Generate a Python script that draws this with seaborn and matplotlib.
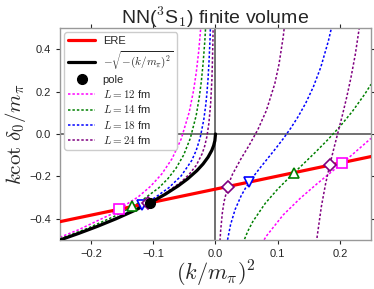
import numpy as np
import matplotlib
matplotlib.use("Agg")
import matplotlib.pyplot as plt
import seaborn as sns

# effective range expansion line (end points)
ere_x = [-0.25, 0.25]
ere_y = [-0.4135, -0.1065]

# -sqrt(-(k/m)^2) branch
root_x = [-0.25, -0.22, -0.19, -0.16, -0.13, -0.10, -0.08, -0.06, -0.045, -0.03,
          -0.02, -0.012, -0.006, -0.003, -0.001, 0.0]
root_y = [-0.5, -0.469, -0.4359, -0.4, -0.3606, -0.3162, -0.2828, -0.2449, -0.2121, -0.1732,
          -0.1414, -0.1095, -0.0775, -0.0548, -0.0316, 0.0]

# finite volume curves, negative side
l12_neg_x = [-0.25, -0.2207, -0.169, -0.1242, -0.1043, -0.0862, -0.0698, -0.0552, -0.0423,
             -0.0353, -0.031, -0.027, -0.0233]
l12_neg_y = [-0.487, -0.4525, -0.3803, -0.2964, -0.2465, -0.188, -0.1163, -0.0239, 0.1025,
             0.2045, 0.2885, 0.3898, 0.5142]
l14_neg_x = [-0.25, -0.2052, -0.1622, -0.1242, -0.0912, -0.0767, -0.0634, -0.0513, -0.0405,
             -0.031, -0.026, -0.0228, -0.0199, -0.0171, -0.0146]
l14_neg_y = [-0.4949, -0.4445, -0.3879, -0.326, -0.2541, -0.2113, -0.1611, -0.0997, -0.0205,
             0.0879, 0.1752, 0.2473, 0.3341, 0.4408, 0.5739]
l18_neg_x = [-0.25, -0.2207, -0.1855, -0.1533, -0.1242, -0.0981, -0.0751, -0.0552, -0.0383,
             -0.031, -0.0245, -0.0188, -0.0157, -0.0138, -0.012, -0.0104, -0.0088, -0.0074]
l18_neg_y = [-0.4991, -0.4685, -0.4284, -0.3877, -0.3458, -0.3017, -0.2536, -0.1976, -0.1253,
             -0.0775, -0.016, 0.0684, 0.1363, 0.1923, 0.2599, 0.3428, 0.4464, 0.5786]
l24_neg_x = [-0.25, -0.2207, -0.169, -0.1242, -0.0862, -0.0552, -0.0423, -0.031, -0.0216,
             -0.0175, -0.0138, -0.0106, -0.0078, -0.0058, -0.005, -0.0042, -0.0035]
l24_neg_y = [-0.4999, -0.4697, -0.4107, -0.3514, -0.2908, -0.2263, -0.1902, -0.1482, -0.094,
             -0.0582, -0.012, 0.0513, 0.1442, 0.2571, 0.3348, 0.4339, 0.5637]

# finite volume curves, positive side
l12_pos_x = [0.0708, 0.0817, 0.1089, 0.1362, 0.1634, 0.1906, 0.2179, 0.25]
l12_pos_y = [-0.5345, -0.4817, -0.3815, -0.3033, -0.2344, -0.1687, -0.1025, -0.0204]
l14_pos_x = [0.044, 0.052, 0.06, 0.08, 0.1, 0.12, 0.14, 0.16, 0.18, 0.2001, 0.2201, 0.2401, 0.2501]
l14_pos_y = [-0.5151, -0.4582, -0.4129, -0.327, -0.26, -0.2009, -0.1446, -0.0879, -0.0286,
             0.0354, 0.1068, 0.1886, 0.2349]
l18_pos_x = [0.0194, 0.0242, 0.0315, 0.0412, 0.0484, 0.0605, 0.0726, 0.0847, 0.0968, 0.1089,
             0.121, 0.1331, 0.1452, 0.1573, 0.1694, 0.1815, 0.1864]
l18_pos_y = [-0.4993, -0.4279, -0.3564, -0.2917, -0.2543, -0.2022, -0.1563, -0.1124, -0.0683,
             -0.0222, 0.0276, 0.083, 0.1467, 0.2223, 0.3162, 0.439, 0.5006]
l24_pos_x = [0.0068, 0.0082, 0.0109, 0.0136, 0.0204, 0.0272, 0.0409, 0.0545, 0.0681, 0.0817,
             0.0953, 0.1021, 0.1089, 0.1116]
l24_pos_y = [-0.5246, -0.459, -0.3745, -0.3209, -0.2408, -0.1907, -0.1172, -0.0513, 0.0207,
             0.11, 0.2371, 0.3292, 0.4592, 0.5292]
l24_pos2_x = [0.1566, 0.1634, 0.1702, 0.177, 0.1838, 0.1906, 0.1974, 0.2042, 0.211, 0.2178,
              0.2247, 0.2315]
l24_pos2_y = [-0.6987, -0.4843, -0.3422, -0.2347, -0.145, -0.0643, 0.013, 0.0911, 0.1743,
              0.2666, 0.3748, 0.5078]

# crossings with the ERE line
l12_cross_x = [-0.155, 0.204]
l12_cross_y = [-0.355, -0.135]
l14_cross_x = [-0.134, 0.127]
l14_cross_y = [-0.342, -0.182]
l18_cross_x = [-0.118, 0.0535]
l18_cross_y = [-0.333, -0.227]
l24_cross_x = [-0.108, 0.0193, 0.1835]
l24_cross_y = [-0.326, -0.248, -0.147]
pole_x = [-0.105]
pole_y = [-0.3245]

sns.set_style("ticks", {"axes.edgecolor": ".6", "xtick.color": ".15", "ytick.color": ".15",
                        "xtick.direction": "out", "ytick.direction": "out"})
plt.rcParams['font.family'] = ['Liberation Sans', 'DejaVu Sans']
plt.rcParams['mathtext.fontset'] = 'cm'

fig = plt.figure(figsize=(3.74, 2.89), dpi=100)
ax = fig.add_axes([0.1604, 0.1696, 0.8316, 0.7335])

ax.axhline(0, color='.35', lw=1.2, zorder=1)
ax.axvline(0, color='.35', lw=1.2, zorder=1)

dash = (0, (1.6, 1.3))
curves = [
    ('#ff00ff', r'$L=12$ fm', [(l12_neg_x, l12_neg_y), (l12_pos_x, l12_pos_y)]),
    ('#008000', r'$L=14$ fm', [(l14_neg_x, l14_neg_y), (l14_pos_x, l14_pos_y)]),
    ('#0000ff', r'$L=18$ fm', [(l18_neg_x, l18_neg_y), (l18_pos_x, l18_pos_y)]),
    ('#800080', r'$L=24$ fm', [(l24_neg_x, l24_neg_y), (l24_pos_x, l24_pos_y),
                               (l24_pos2_x, l24_pos2_y)]),
]
for color, label, branches in curves:
    for i, (bx, by) in enumerate(branches):
        sns.lineplot(x=bx, y=by, sort=False, estimator=None, color=color, lw=1.1,
                     linestyle=dash, ax=ax, label=label if i == 0 else None, zorder=2)

sns.lineplot(x=ere_x, y=ere_y, sort=False, estimator=None, color='r', lw=2.3,
             ax=ax, label='ERE', zorder=3)
sns.lineplot(x=root_x, y=root_y, sort=False, estimator=None, color='k', lw=2.3,
             ax=ax, label=r'$-\sqrt{-(k/m_\pi)^2}$', zorder=3)

ax.plot(l12_cross_x, l12_cross_y, 's', ms=7, mfc='white', mec='#ff00ff', mew=1.2, zorder=5)
ax.plot(l14_cross_x, l14_cross_y, '^', ms=7.5, mfc='white', mec='#008000', mew=1.2, zorder=5)
ax.plot(l18_cross_x, l18_cross_y, 'v', ms=7.5, mfc='white', mec='#0000ff', mew=1.2, zorder=5)
ax.plot(l24_cross_x, l24_cross_y, 'D', ms=6.5, mfc='white', mec='#800080', mew=1.2, zorder=5)
ax.plot(pole_x, pole_y, 'o', ms=7, color='k', ls='none', label='pole', zorder=6)

ax.set_xlim(-0.25, 0.25)
ax.set_ylim(-0.5, 0.5)
ax.set_xticks([-0.2, -0.1, 0.0, 0.1, 0.2])
ax.set_yticks([-0.4, -0.2, 0.0, 0.2, 0.4])
ax.tick_params(top=True, right=True, labelsize=8, length=3, width=0.8)
for s in ax.spines.values():
    s.set_linewidth(1.0)

ax.set_title(r'NN($^3$S$_1$) finite volume', fontsize=14, pad=3)
ax.set_xlabel(r'$(k/m_\pi)^2$', fontsize=16, labelpad=0)
ax.set_ylabel(r'$k\cot\,\delta_0/m_\pi$', fontsize=15, labelpad=1)

handles, labels = ax.get_legend_handles_labels()
order = ['ERE', r'$-\sqrt{-(k/m_\pi)^2}$', 'pole', r'$L=12$ fm', r'$L=14$ fm',
         r'$L=18$ fm', r'$L=24$ fm']
hmap = dict(zip(labels, handles))
ax.legend([hmap[k] for k in order], order, loc='upper left', fontsize=8, numpoints=1,
          frameon=True, fancybox=True, edgecolor='.8', framealpha=1,
          handlelength=2.4, handletextpad=0.7, labelspacing=0.28, borderaxespad=0.4,
          borderpad=0.35)

fig.savefig('out.png', dpi=100)
